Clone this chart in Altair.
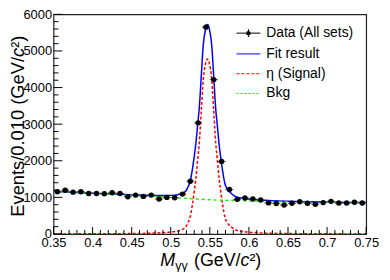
import altair as alt
import pandas as pd

# ---------------- data ----------------
bin_centers = [0.355, 0.365, 0.375, 0.385, 0.395, 0.405, 0.415, 0.425, 0.435, 0.445,
               0.455, 0.465, 0.475, 0.485, 0.495, 0.505, 0.515, 0.525, 0.535, 0.545,
               0.555, 0.565, 0.575, 0.585, 0.595, 0.605, 0.615, 0.625, 0.635, 0.645,
               0.655, 0.665, 0.675, 0.685, 0.695, 0.705, 0.715, 0.725, 0.735, 0.745]
counts = [1155, 1197, 1143, 1155, 1108, 1108, 1100, 1127, 1108, 1019,
          1062, 1027, 1062, 955, 1000, 992, 1090, 1441, 3036, 5650,
          4217, 1981, 1216, 946, 981, 955, 928, 850, 835, 790,
          838, 880, 842, 811, 857, 892, 846, 846, 865, 846]
count_err = [34, 35, 34, 34, 33, 33, 33, 34, 33, 32,
             33, 32, 33, 31, 32, 31, 33, 38, 55, 75,
             65, 45, 35, 31, 31, 31, 30, 29, 29, 28,
             29, 30, 29, 28, 29, 30, 29, 29, 29, 29]
half_bin = 0.005

curve_x = [0.35, 0.40, 0.45, 0.48, 0.50, 0.51, 0.515, 0.52, 0.5225, 0.525, 0.5275, 0.53,
           0.532, 0.5345, 0.5365, 0.539, 0.5415, 0.5445, 0.547, 0.5495, 0.5525, 0.555,
           0.5575, 0.5595, 0.562, 0.564, 0.5665, 0.569, 0.5715, 0.574, 0.579, 0.584,
           0.59, 0.60, 0.62, 0.65, 0.70, 0.75]
signal_y = [2, 5, 12, 25, 55, 90, 125, 220, 330, 480, 780, 1150,
            1490, 2050, 2490, 3350, 4200, 4650, 4780, 4650, 4200, 3350,
            2490, 2050, 1490, 1150, 780, 480, 330, 260, 165, 100,
            75, 50, 25, 12, 5, 2]
total_y = [1167, 1115, 1072, 1050, 1055, 1080, 1108, 1195, 1302, 1448, 1745, 2112,
           2450, 3006, 3443, 4300, 5147, 5593, 5720, 5588, 5135, 4283,
           3421, 2979, 2417, 2075, 1703, 1401, 1249, 1180, 1080, 1011,
           984, 955, 920, 892, 870, 859]
bkg_x = [0.35, 0.40, 0.45, 0.50, 0.55, 0.60, 0.65, 0.70, 0.75]
bkg_y = [1165, 1110, 1060, 1000, 935, 905, 880, 865, 857]

x_major = [0.35, 0.40, 0.45, 0.50, 0.55, 0.60, 0.65, 0.70, 0.75]
x_minor = [round(0.35 + 0.01 * i, 2) for i in range(41) if i % 5 != 0]
y_major = [0, 1000, 2000, 3000, 4000, 5000, 6000]
y_minor = [v for v in range(0, 6001, 200) if v % 1000 != 0]

legend_labels = ["Data (All sets)", "Fit result", "\u03b7 (Signal)", "Bkg"]

# ---------------- chart ----------------
W, H = 316, 222
FONT = "Liberation Sans"
xs = alt.Scale(domain=[0.35, 0.75], nice=False, zero=False)
ys = alt.Scale(domain=[0, 6000], nice=False)

data = pd.DataFrame({"x": bin_centers, "y": counts, "e": count_err})
data["lo"] = data["y"] - data["e"]
data["hi"] = data["y"] + data["e"]
data["xl"] = data["x"] - half_bin
data["xh"] = data["x"] + half_bin

curves = pd.DataFrame({"x": curve_x, "sig": signal_y, "tot": total_y})
bkg = pd.DataFrame({"x": bkg_x, "b": bkg_y})

XA = alt.Axis(values=x_major, format=".2~f", ticks=False, domain=False, grid=False,
              labelFont=FONT, labelFontSize=13, labelColor="black", labelPadding=3,
              title=None, labelOverlap=False, labelFlush=False, labelBound=False)
YA = alt.Axis(values=y_major, format="d", ticks=False, domain=False, grid=False,
              labelFont=FONT, labelFontSize=13, labelColor="black", labelPadding=2,
              title=None, labelOverlap=False, labelFlush=False, labelBound=False)


def X(f):
    return alt.X(f, scale=xs, axis=XA)


def Y(f):
    return alt.Y(f, scale=ys, axis=YA)


total_line = alt.Chart(curves).mark_line(color="#0000ff", strokeWidth=1.5,
                                         interpolate="monotone", clip=True).encode(
    x=X("x:Q"), y=Y("tot:Q"))
sig_line = alt.Chart(curves).mark_line(color="#ff0000", strokeWidth=1.5, strokeDash=[3, 2],
                                       interpolate="monotone", clip=True).encode(
    x=X("x:Q"), y=Y("sig:Q"))
bkg_line = alt.Chart(bkg).mark_line(color="#00ee00", strokeWidth=1.3, strokeDash=[3, 3],
                                    interpolate="monotone", clip=True).encode(
    x=X("x:Q"), y=Y("b:Q"))

vbars = alt.Chart(data).mark_rule(color="#222", strokeWidth=1).encode(
    x=X("x:Q"), y=Y("lo:Q"), y2="hi:Q")
hbars = alt.Chart(data).mark_rule(color="#444", strokeWidth=1).encode(
    x=X("xl:Q"), x2="xh:Q", y=Y("y:Q"))
points = alt.Chart(data).mark_circle(color="black", size=30, opacity=1).encode(
    x=X("x:Q"), y=Y("y:Q"))

# inward ticks
xmaj = alt.Chart(pd.DataFrame({"t": x_major})).mark_rule(color="black").encode(
    x=X("t:Q"), y=alt.value(H), y2=alt.value(H - 7))
xmin = alt.Chart(pd.DataFrame({"t": x_minor})).mark_rule(color="black").encode(
    x=X("t:Q"), y=alt.value(H), y2=alt.value(H - 4))
ymaj = alt.Chart(pd.DataFrame({"t": y_major})).mark_rule(color="black").encode(
    y=Y("t:Q"), x=alt.value(0), x2=alt.value(9))
ymin = alt.Chart(pd.DataFrame({"t": y_minor})).mark_rule(color="black").encode(
    y=Y("t:Q"), x=alt.value(0), x2=alt.value(5))

one = pd.DataFrame({"a": [0]})


def txt(s, x, y, size, style="normal", angle=0, baseline="alphabetic", align="left"):
    kw = dict(font=FONT, fontSize=size, fontStyle=style, align=align,
              baseline=baseline, color="black")
    if angle:
        kw["angle"] = angle
    return alt.Chart(one).mark_text(**kw).encode(
        x=alt.value(x), y=alt.value(y), text=alt.value(s))


# axis titles (composed so that c and M can be italic)
YT = 18.5
YB = -30
Y0 = 204.5
ytitle = [
    txt("Events/0.010 (GeV/", YB, Y0, YT, angle=270),
    txt("c", YB, Y0 - 8.727 * YT, YT, style="italic", angle=270),
    txt("\u00b2)", YB, Y0 - 9.227 * YT, YT, angle=270),
]
xtitle = [
    txt("M", 108, 254, 18, style="italic"),
    txt("\u03b3\u03b3", 123, 258, 12.5),
    txt("(GeV/", 142, 254, 18),
    txt("c", 189, 254, 18, style="italic"),
    txt("\u00b2)", 198, 254, 18),
]

# legend
LX0, LX1, LTX = 185, 209, 215
LY = [19, 40, 60, 80]
leg = [
    alt.Chart(one).mark_rule(color="black").encode(x=alt.value(LX0), x2=alt.value(LX1), y=alt.value(LY[0])),
    alt.Chart(one).mark_rule(color="black").encode(x=alt.value((LX0 + LX1) / 2), y=alt.value(LY[0] - 4), y2=alt.value(LY[0] + 4)),
    alt.Chart(one).mark_circle(color="black", size=20, opacity=1).encode(x=alt.value((LX0 + LX1) / 2), y=alt.value(LY[0])),
    alt.Chart(one).mark_rule(color="#0000ff").encode(x=alt.value(LX0), x2=alt.value(LX1), y=alt.value(LY[1])),
    alt.Chart(one).mark_rule(color="#ff0000", strokeDash=[3, 2]).encode(x=alt.value(LX0), x2=alt.value(LX1), y=alt.value(LY[2])),
    alt.Chart(one).mark_rule(color="#00ee00", strokeDash=[2, 2]).encode(x=alt.value(LX0), x2=alt.value(LX1), y=alt.value(LY[3])),
]
for lab, yy in zip(legend_labels, LY):
    leg.append(txt(lab, LTX, yy, 14, baseline="middle"))

chart = alt.layer(
    total_line, sig_line, bkg_line, vbars, hbars, points,
    xmaj, xmin, ymaj, ymin, *ytitle, *xtitle, *leg
).properties(
    width=W, height=H,
    padding={"left": 46, "top": 5, "right": 16, "bottom": 37},
    autosize="none",
).configure_view(stroke="#222", strokeWidth=1.2)

chart.save("out.html", embed_options={"renderer": "svg", "actions": False})
